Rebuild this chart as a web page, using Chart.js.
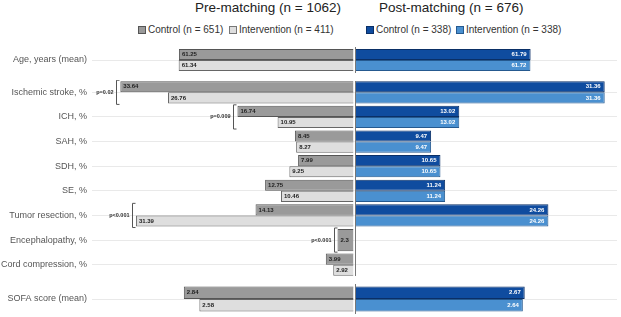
<!DOCTYPE html>
<html>
<head>
<meta charset="utf-8">
<script src="https://cdn.jsdelivr.net/npm/chart.js@4.4.1/dist/chart.umd.min.js"></script>
<style>
  body { margin: 0; background: #fff; font-family: "Liberation Sans", Arial, sans-serif; }
  #wrap { position: relative; width: 621px; height: 317px; overflow: hidden; }
  .title { position: absolute; top: 0px; font-size: 13.5px; color: #222; white-space: nowrap; }
  .lg { position: absolute; top: 24px; font-size: 10px; line-height: 12px; color: #333; white-space: nowrap; }
  .box { display: inline-block; width: 8px; height: 8px; border: 1px solid #555; box-sizing: border-box; vertical-align: -1px; margin-right: 2px; }
  canvas { position: absolute; left: 0; }
</style>
</head>
<body>
<div id="wrap">
  <div class="title" style="left:195px">Pre-matching (n = 1062)</div>
  <div class="title" style="left:379px">Post-matching (n = 676)</div>
  <div class="lg" style="left:138px"><span class="box" style="background:#9a9a9a"></span>Control (n = 651)</div>
  <div class="lg" style="left:229px"><span class="box" style="background:#dedede;border-color:#777"></span>Intervention (n = 411)</div>
  <div class="lg" style="left:366px"><span class="box" style="background:#0f4c9f;border-color:#0a2f66"></span>Control (n = 338)</div>
  <div class="lg" style="left:456px"><span class="box" style="background:#4a90d0;border-color:#25598f"></span>Intervention (n = 338)</div>
  <canvas id="ageChart" width="621" height="28" style="top:46px"></canvas>
  <canvas id="pctChart" width="621" height="197" style="top:80px"></canvas>
  <canvas id="sofaChart" width="621" height="32" style="top:283px"></canvas>
</div>
<script>
// --- data ---
const ageLabels = ['Age, years (mean)'];
const agePreControl = [61.25];
const agePreIntervention = [61.34];
const agePostControl = [61.79];
const agePostIntervention = [61.72];

const pctLabels = ['Ischemic stroke, %', 'ICH, %', 'SAH, %', 'SDH, %', 'SE, %', 'Tumor resection, %', 'Encephalopathy, %', 'Cord compression, %'];
const pctPreControl = [33.64, 16.74, 8.45, 7.99, 12.75, 14.13, 2.3, 3.99];
const pctPreIntervention = [26.76, 10.95, 8.27, 9.25, 10.46, 31.39, null, 2.92];
const pctPostControl = [31.36, 13.02, 9.47, 10.65, 11.24, 24.26, null, null];
const pctPostIntervention = [31.36, 13.02, 9.47, 10.65, 11.24, 24.26, null, null];
const pctPValues = ['p=0.02', 'p=0.009', null, null, null, 'p<0.001', 'p<0.001', null];

const sofaLabels = ['SOFA score (mean)'];
const sofaPreControl = [2.84];
const sofaPreIntervention = [2.58];
const sofaPostControl = [2.67];
const sofaPostIntervention = [2.64];

const FONT = '"Liberation Sans", Arial, sans-serif';

// value text at the outer end of each bar
const valueLabels = {
  id: 'valueLabels',
  afterDatasetsDraw(chart) {
    const ctx = chart.ctx;
    ctx.save();
    ctx.font = 'bold 6px ' + FONT;
    ctx.textBaseline = 'middle';
    chart.data.datasets.forEach((ds, di) => {
      const meta = chart.getDatasetMeta(di);
      meta.data.forEach((el, i) => {
        const v = ds.data[i];
        if (v == null) return;
        if (ds.xAxisID === 'xL') {
          ctx.fillStyle = '#222';
          ctx.textAlign = 'left';
          ctx.fillText(String(v), el.x + 3, el.y);
        } else {
          ctx.fillStyle = '#fff';
          ctx.textAlign = 'right';
          ctx.fillText(String(v), el.x - 4, el.y);
        }
      });
    });
    ctx.restore();
  }
};

// vertical line between pre and post halves
const divider = {
  id: 'divider',
  afterDatasetsDraw(chart) {
    const {ctx, chartArea, scales} = chart;
    const x = Math.round((scales.xL.getPixelForValue(0) + scales.xR.getPixelForValue(0)) / 2) + 0.5;
    ctx.save();
    ctx.strokeStyle = '#777';
    ctx.lineWidth = 1;
    ctx.beginPath();
    ctx.moveTo(x, chartArea.top + 1);
    ctx.lineTo(x, chartArea.bottom - 1);
    ctx.stroke();
    ctx.restore();
  }
};

// p-value brackets on the pre-matching side
function brackets(pValues) {
  return {
    id: 'brackets',
    afterDatasetsDraw(chart) {
      if (!pValues) return;
      const ctx = chart.ctx;
      ctx.save();
      ctx.strokeStyle = '#555';
      ctx.lineWidth = 1;
      ctx.fillStyle = '#333';
      ctx.font = 'bold 5.5px ' + FONT;
      ctx.textAlign = 'right';
      ctx.textBaseline = 'middle';
      pValues.forEach((p, i) => {
        if (!p) return;
        let left = Infinity, top = Infinity, bottom = -Infinity;
        [0, 1].forEach(di => {
          if (chart.data.datasets[di].data[i] == null) return;
          const el = chart.getDatasetMeta(di).data[i];
          left = Math.min(left, el.x);
          top = Math.min(top, el.y - el.height / 2);
          bottom = Math.max(bottom, el.y + el.height / 2);
        });
        const x = Math.round(left - 4) + 0.5;
        top -= 1; bottom += 1;
        ctx.beginPath();
        ctx.moveTo(x + 3, top);
        ctx.lineTo(x, top);
        ctx.lineTo(x, bottom);
        ctx.lineTo(x + 3, bottom);
        ctx.stroke();
        ctx.fillText(p, x - 3, (top + bottom) / 2);
      });
      ctx.restore();
    }
  };
}

function buildChart(id, labels, pre, post, rangeL, rangeR, catPct, pValues) {
  new Chart(document.getElementById(id), {
    type: 'bar',
    data: {
      labels: labels,
      datasets: [
        { label: 'Control (n = 651)', data: pre[0], xAxisID: 'xL', stack: 'control',
          backgroundColor: '#9a9a9a', borderColor: '#555' },
        { label: 'Intervention (n = 411)', data: pre[1], xAxisID: 'xL', stack: 'intervention',
          backgroundColor: '#dedede', borderColor: '#666' },
        { label: 'Control (n = 338)', data: post[0], xAxisID: 'xR', stack: 'control',
          backgroundColor: '#0f4c9f', borderColor: '#0a2f66' },
        { label: 'Intervention (n = 338)', data: post[1], xAxisID: 'xR', stack: 'intervention',
          backgroundColor: '#4a90d0', borderColor: '#25598f' }
      ]
    },
    options: {
      indexAxis: 'y',
      responsive: false,
      animation: false,
      layout: { autoPadding: false, padding: { left: 0, right: 4, top: 0, bottom: 0 } },
      datasets: { bar: { borderWidth: 1, skipNull: true, categoryPercentage: catPct, barPercentage: 1 } },
      scales: {
        y: {
          afterFit: s => { s.width = 92; s.paddingTop = 0; s.paddingBottom = 0; },
          grid: { offset: false, color: '#e9e9e9', drawTicks: false },
          border: { display: false },
          ticks: { padding: 5, color: '#555', font: { family: FONT, size: 9 } }
        },
        xL: { type: 'linear', axis: 'x', reverse: true, min: rangeL[0], max: rangeL[1], display: false, stacked: false },
        xR: { type: 'linear', axis: 'x', min: rangeR[0], max: rangeR[1], display: false, stacked: false }
      },
      plugins: { legend: { display: false }, tooltip: { enabled: false } }
    },
    plugins: [valueLabels, divider, brackets(pValues)]
  });
}

buildChart('ageChart', ageLabels, [agePreControl, agePreIntervention], [agePostControl, agePostIntervention],
  [-92.46, 91.75], [-93.42, 92.35], 0.78, null);
buildChart('pctChart', pctLabels, [pctPreControl, pctPreIntervention], [pctPostControl, pctPostIntervention],
  [-38.03, 37.73], [-33.29, 32.91], 0.9, pctPValues);
buildChart('sofaChart', sofaLabels, [sofaPreControl, sofaPreIntervention], [sofaPostControl, sofaPostIntervention],
  [-4.41, 4.377], [-4.177, 4.13], 0.78, null);
</script>
</body>
</html>
